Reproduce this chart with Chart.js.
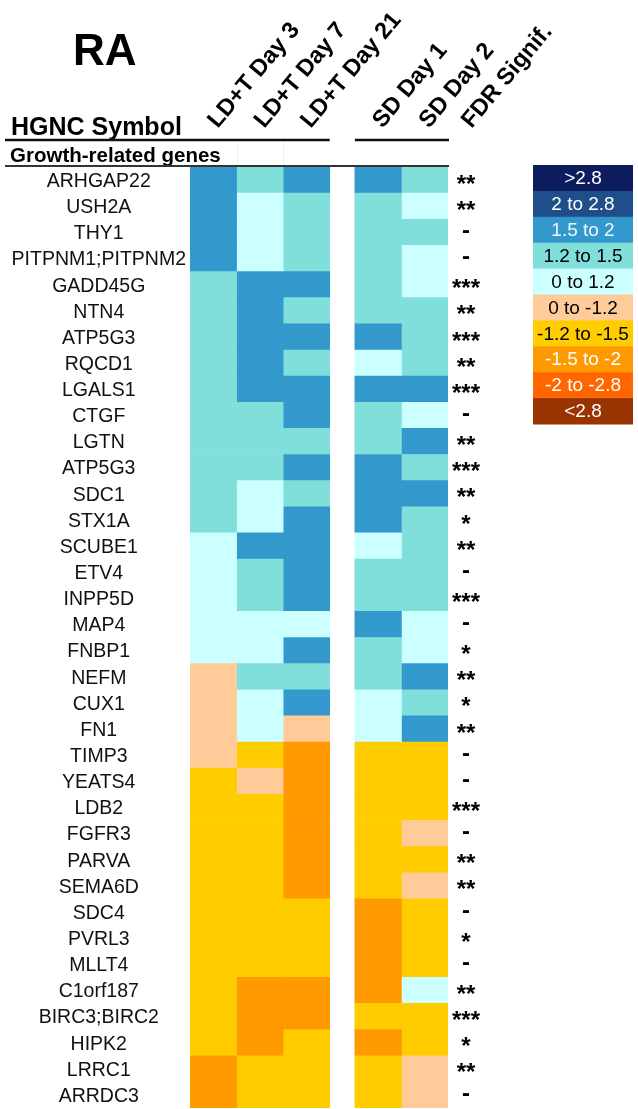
<!DOCTYPE html>
<html>
<head>
<meta charset="utf-8">
<script src="https://cdn.jsdelivr.net/npm/chart.js@4.4.0/dist/chart.umd.min.js"></script>
<style>
html, body { margin: 0; padding: 0; background: #fff; }
#wrap { width: 638px; height: 1109px; }
</style>
</head>
<body>
<div id="wrap"><canvas id="heatmap" width="638" height="1109"></canvas></div>
<script>
const genes = ['ARHGAP22', 'USH2A', 'THY1', 'PITPNM1;PITPNM2', 'GADD45G', 'NTN4', 'ATP5G3', 'RQCD1', 'LGALS1',
    'CTGF', 'LGTN', 'ATP5G3', 'SDC1', 'STX1A', 'SCUBE1', 'ETV4', 'INPP5D', 'MAP4', 'FNBP1', 'NEFM', 'CUX1', 'FN1',
    'TIMP3', 'YEATS4', 'LDB2', 'FGFR3', 'PARVA', 'SEMA6D', 'SDC4', 'PVRL3', 'MLLT4', 'C1orf187', 'BIRC3;BIRC2',
    'HIPK2', 'LRRC1', 'ARRDC3'];

const ld3 = [1.7, 1.7, 1.7, 1.7, 1.35, 1.35, 1.35, 1.35, 1.35, 1.35, 1.35, 1.35, 1.35, 1.35, 1.1, 1.1, 1.1, 1.1, 1.1,
    -1.1, -1.1, -1.1, -1.1, -1.35, -1.35, -1.35, -1.35, -1.35, -1.35, -1.35, -1.35, -1.35, -1.35, -1.35, -1.7, -1.7];
const ld7 = [1.35, 1.1, 1.1, 1.1, 1.7, 1.7, 1.7, 1.7, 1.7, 1.35, 1.35, 1.35, 1.1, 1.1, 1.7, 1.35, 1.35, 1.1, 1.1,
    1.35, 1.1, 1.1, -1.35, -1.1, -1.35, -1.35, -1.35, -1.35, -1.35, -1.35, -1.35, -1.7, -1.7, -1.7, -1.35, -1.35];
const ld21 = [1.7, 1.35, 1.35, 1.35, 1.7, 1.35, 1.7, 1.35, 1.7, 1.7, 1.35, 1.7, 1.35, 1.7, 1.7, 1.7, 1.7, 1.1, 1.7,
    1.35, 1.7, -1.1, -1.7, -1.7, -1.7, -1.7, -1.7, -1.7, -1.35, -1.35, -1.35, -1.7, -1.7, -1.35, -1.35, -1.35];
const sd1 = [1.7, 1.35, 1.35, 1.35, 1.35, 1.35, 1.7, 1.1, 1.7, 1.35, 1.35, 1.7, 1.7, 1.7, 1.1, 1.35, 1.35, 1.7, 1.35,
    1.35, 1.1, 1.1, -1.35, -1.35, -1.35, -1.35, -1.35, -1.35, -1.7, -1.7, -1.7, -1.7, -1.35, -1.7, -1.35, -1.35];
const sd2 = [1.35, 1.1, 1.35, 1.1, 1.1, 1.35, 1.35, 1.35, 1.7, 1.1, 1.7, 1.35, 1.7, 1.35, 1.35, 1.35, 1.35, 1.1, 1.1,
    1.7, 1.35, 1.7, -1.35, -1.35, -1.35, -1.1, -1.35, -1.1, -1.35, -1.35, -1.35, 1.1, -1.35, -1.35, -1.1, -1.1];

const fdrSignif = ['**', '**', '-', '-', '***', '**', '***', '**', '***', '-', '**', '***', '**', '*', '**', '-',
    '***', '-', '*', '**', '*', '**', '-', '-', '***', '-', '**', '**', '-', '*', '-', '**', '***', '*', '**', '-'];

const columnLabels = ['LD+T Day 3', 'LD+T Day 7', 'LD+T Day 21', 'SD Day 1', 'SD Day 2'];
const fdrLabel = 'FDR Signif.';

const binLabels = ['>2.8', '2 to 2.8', '1.5 to 2', '1.2 to 1.5', '0 to 1.2', '0 to -1.2', '-1.2 to -1.5',
    '-1.5 to -2', '-2 to -2.8', '<2.8'];
const binLower = [2.8, 2, 1.5, 1.2, 0, -1.2, -1.5, -2, -2.8];
const binColors = ['#0c1c5e', '#1f4e8a', '#3399cc', '#80dfdb', '#ccffff', '#ffcc99', '#ffcc00', '#ff9900',
    '#ff6600', '#993300'];
const binTextColors = ['#ffffff', '#ffffff', '#eef6ff', '#000000', '#000000', '#000000', '#000000', '#ffffff',
    '#ffffff', '#ffffff'];

const series = [ld3, ld7, ld21, sd1, sd2];

// column layout in "cell" units: LD block, a gap, SD block, then the FDR text column
const GAP = 0.54;
const colStart = [0, 1, 2, 3 + GAP, 4 + GAP];
const X_MAX = 5 + GAP;
const FDR_POS = X_MAX + 0.41;

function binIndex(v) {
    for (let i = 0; i < binLower.length; i++) {
        if (v > binLower[i]) return i;
    }
    return binLower.length;
}

const datasets = series.map(function (vals, c) {
    return {
        label: columnLabels[c],
        data: vals.map(function () { return [colStart[c], colStart[c] + 1]; }),
        backgroundColor: function (ctx) { return binColors[binIndex(vals[ctx.dataIndex])]; },
        borderWidth: 0,
        grouped: false,
        barPercentage: 1,
        categoryPercentage: 1
    };
});

const SANS = '"Liberation Sans", Arial, sans-serif';

// keep the label overhang of the row axes from shrinking the plot
function noVerticalPadding(scale) {
    scale.paddingTop = 0;
    scale.paddingBottom = 0;
}

const decorations = {
    id: 'decorations',
    afterDraw(chart) {
        const ctx = chart.ctx;
        const xs = chart.scales.x;
        const area = chart.chartArea;
        ctx.save();
        ctx.fillStyle = '#000';
        ctx.textBaseline = 'alphabetic';
        ctx.textAlign = 'left';
        ctx.font = 'bold 44px ' + SANS;
        ctx.fillText('RA', 73, 65);
        ctx.font = 'bold 25px ' + SANS;
        ctx.fillText('HGNC Symbol', 11, 135);
        ctx.font = 'bold 20.5px ' + SANS;
        ctx.fillText('Growth-related genes', 10, 162);

        // faint cell edges inside the group row
        ctx.strokeStyle = '#eeeeee';
        ctx.lineWidth = 1;
        [1, 2].forEach(function (v) {
            const px = Math.round(xs.getPixelForValue(v)) + 0.5;
            ctx.beginPath();
            ctx.moveTo(px, 142);
            ctx.lineTo(px, 165);
            ctx.stroke();
        });

        ctx.strokeStyle = '#111';
        ctx.lineWidth = 2.5;
        ctx.beginPath();
        ctx.moveTo(5, 140);
        ctx.lineTo(xs.getPixelForValue(3), 140);
        ctx.moveTo(xs.getPixelForValue(colStart[3]), 140);
        ctx.lineTo(area.right + 1, 140);
        ctx.stroke();
        ctx.strokeStyle = '#333';
        ctx.lineWidth = 2;
        ctx.beginPath();
        ctx.moveTo(5, 166);
        ctx.lineTo(area.right + 1, 166);
        ctx.stroke();

        // colour key
        const kx = 533, kw = 100, ky = 165, kh = 25.9;
        ctx.textAlign = 'center';
        ctx.textBaseline = 'middle';
        ctx.font = '19px ' + SANS;
        binLabels.forEach(function (lbl, i) {
            ctx.fillStyle = binColors[i];
            ctx.fillRect(kx, ky + i * kh, kw, kh + 0.5);
            ctx.fillStyle = binTextColors[i];
            ctx.fillText(lbl, kx + kw / 2, ky + i * kh + kh / 2 + 1);
        });
        ctx.restore();
    }
};

new Chart(document.getElementById('heatmap'), {
    type: 'bar',
    data: { labels: genes, datasets: datasets },
    plugins: [decorations],
    options: {
        indexAxis: 'y',
        responsive: false,
        animation: false,
        layout: { padding: { top: 0, left: 0, right: 150, bottom: 1 } },
        plugins: {
            legend: { display: false },
            tooltip: { enabled: false },
            title: { display: false }
        },
        scales: {
            x: {
                type: 'linear',
                position: 'top',
                min: 0,
                max: X_MAX,
                bounds: 'data',
                grid: { display: false, drawTicks: false },
                border: { display: false },
                afterBuildTicks: function (scale) {
                    scale.ticks = colStart.map(function (s) { return { value: s + 0.5 }; })
                        .concat([{ value: FDR_POS }]);
                },
                afterFit: function (scale) { scale.height = 167; },
                ticks: {
                    autoSkip: false,
                    minRotation: 50,
                    maxRotation: 50,
                    padding: 37,
                    labelOffset: 12,
                    color: '#000',
                    font: { family: SANS, size: 23.5, weight: 'bold', lineHeight: 0.7 },
                    callback: function (value, index) {
                        return index < columnLabels.length ? columnLabels[index] : fdrLabel;
                    }
                }
            },
            y: {
                type: 'category',
                position: 'left',
                grid: { display: false, drawTicks: false },
                border: { display: false },
                afterFit: function (scale) { scale.width = 190; noVerticalPadding(scale); },
                ticks: {
                    autoSkip: false,
                    crossAlign: 'center',
                    padding: 4,
                    labelOffset: 1.5,
                    color: '#111',
                    font: { family: SANS, size: 19.5 }
                }
            },
            fdr: {
                type: 'category',
                position: 'right',
                labels: genes,
                offset: true,
                grid: { display: false, drawTicks: false },
                border: { display: false },
                afterFit: function (scale) { scale.width = 40; noVerticalPadding(scale); },
                ticks: {
                    autoSkip: false,
                    crossAlign: 'center',
                    padding: 4,
                    labelOffset: -1,
                    color: '#000',
                    font: { family: SANS, size: 24, weight: 'bold', lineHeight: 0.5 },
                    callback: function (value, index) {
                        const s = fdrSignif[index];
                        // an empty first line pushes the stars down to the row middle
                        return s.indexOf('*') === 0 ? ['', s] : s;
                    }
                }
            }
        }
    }
});
</script>
</body>
</html>
